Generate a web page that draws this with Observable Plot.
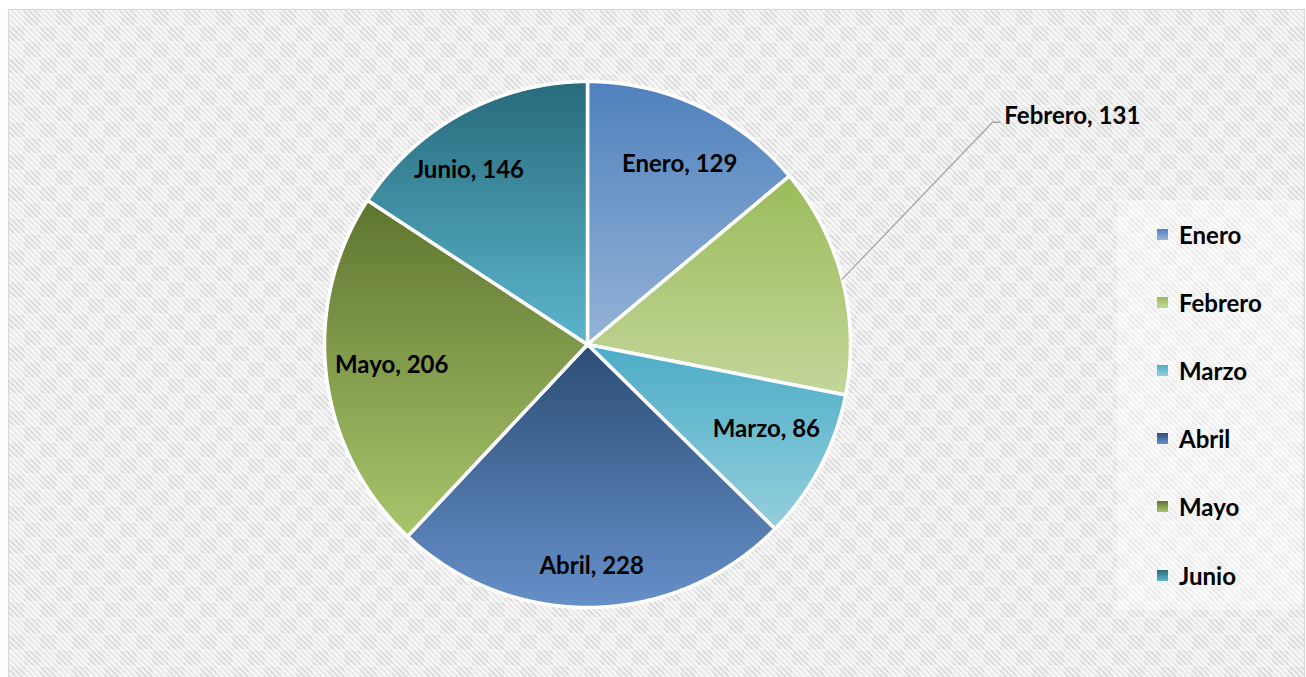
<!DOCTYPE html>
<html>
<head>
<meta charset="utf-8">
<script src="https://cdn.jsdelivr.net/npm/d3@7"></script>
<script src="https://cdn.jsdelivr.net/npm/@observablehq/plot@0.6"></script>
<style>
  html, body { margin: 0; padding: 0; background: #ffffff; }
  #wrap { position: relative; width: 1306px; height: 677px; overflow: hidden; font-family: Lato, "Open Sans", sans-serif; }
  #wrap svg { position: absolute; left: 0; top: 0; }
  #legendBox { position: absolute; left: 1117px; top: 200px; width: 185px; height: 410px; background: rgba(255,255,255,0.4); }
  .item { position: absolute; left: 1157px; height: 28px; display: flex; align-items: center; font-weight: 700; font-size: 24px; color: #000; }
  .sw { width: 11px; height: 11px; margin-right: 11px; }
</style>
</head>
<body>
<div id="wrap"></div>
<script>
// ---- data ----
const months = ["Enero", "Febrero", "Marzo", "Abril", "Mayo", "Junio"];
const values = [129, 131, 86, 228, 206, 146];
const gradTop = ["#4f81bd", "#9bbb59", "#4bacc6", "#2c4d75", "#5f7530", "#276a7c"];
const gradBottom = ["#95b3d7", "#c3d69b", "#95cfdd", "#6690c9", "#a9c56b", "#5db6cc"];
const outsideLabels = ["Febrero"];

// ---- layout constants ----
const W = 1306, H = 677;
const cx = 587, cy = 344, R = 263;
const febLabel = {x: 1.585, y: 0.868, elbowX: 1.54, elbowY: 0.845, endX: 1.57};
const labelNudge = {Junio: [-0.08, -0.025], Abril: [0, -0.065], Enero: [0.02, -0.02], Mayo: [0.03, 0.015], Marzo: [-0.01, 0.04]};

const table = months.map((m, i) => ({month: m, value: values[i]}));
const arcs = d3.pie().sort(null).value(d => d.value)(table);

// slice polygons in unit-circle data space (angle clockwise from 12 o'clock)
const pts = [];
for (const a of arcs) {
  const m = a.data.month;
  pts.push({month: m, x: 0, y: 0});
  const n = Math.max(2, Math.ceil((a.endAngle - a.startAngle) / 0.005));
  for (let k = 0; k <= n; k++) {
    const t = a.startAngle + (a.endAngle - a.startAngle) * k / n;
    pts.push({month: m, x: Math.sin(t), y: Math.cos(t)});
  }
}

const lr = 0.78;
const inside = arcs.filter(a => !outsideLabels.includes(a.data.month)).map(a => {
  const t = (a.startAngle + a.endAngle) / 2;
  const [nx, ny] = labelNudge[a.data.month] || [0, 0];
  return {x: lr * Math.sin(t) + nx, y: lr * Math.cos(t) + ny, text: `${a.data.month}, ${a.data.value}`};
});
const outside = arcs.filter(a => outsideLabels.includes(a.data.month)).map(a => {
  const t = (a.startAngle + a.endAngle) / 2;
  return {a, t, text: `${a.data.month}, ${a.data.value}`};
});
const leader = outside.flatMap(o => [
  {x: Math.sin(o.t), y: Math.cos(o.t)},
  {x: febLabel.elbowX, y: febLabel.elbowY},
  {x: febLabel.endX, y: febLabel.elbowY}
]);
const outText = outside.map(o => ({x: febLabel.x, y: febLabel.y, text: o.text}));

const chart = Plot.plot({
  width: W, height: H,
  marginLeft: 8, marginTop: 9, marginRight: 2, marginBottom: 0,
  x: {domain: [-1, 1], range: [cx - R, cx + R], axis: null},
  y: {domain: [-1, 1], range: [cy + R, cy - R], axis: null},
  color: {domain: months, range: months.map((m, i) => `url(#g${i})`)},
  style: {background: "transparent", fontFamily: "Lato, 'Open Sans', sans-serif", overflow: "visible"},
  marks: [
    Plot.frame({fill: "url(#bgStripes)", stroke: "none", insetBottom: -3}),
    Plot.frame({fill: "url(#bgChecker)", stroke: "#d9d9d9", strokeWidth: 1.2, insetBottom: -3}),
    Plot.line(pts, {x: "x", y: "y", z: "month", fill: "month", stroke: "white", strokeWidth: 3.5, strokeLinejoin: "round", curve: "linear-closed"}),
    Plot.line(leader, {x: "x", y: "y", stroke: "#a6a6a6", strokeWidth: 1.3}),
    Plot.text(inside, {x: "x", y: "y", text: "text", fontSize: 24, fontWeight: 700, fill: "#000"}),
    Plot.text(outText, {x: "x", y: "y", text: "text", fontSize: 24, fontWeight: 700, fill: "#000", textAnchor: "start"})
  ]
});

// gradient and pattern definitions
const defs = d3.select(chart).insert("defs", ":first-child");
months.forEach((m, i) => {
  const g = defs.append("linearGradient").attr("id", `g${i}`).attr("x1", 0).attr("y1", 0).attr("x2", 0).attr("y2", 1);
  g.append("stop").attr("offset", "0%").attr("stop-color", gradTop[i]);
  g.append("stop").attr("offset", "100%").attr("stop-color", gradBottom[i]);
});
const p1 = defs.append("pattern").attr("id", "bgStripes").attr("patternUnits", "userSpaceOnUse")
  .attr("width", 4).attr("height", 4).attr("patternTransform", "rotate(-45)");
p1.append("rect").attr("width", 4).attr("height", 4).attr("fill", "#f5f5f5");
p1.append("rect").attr("width", 1.8).attr("height", 4).attr("fill", "#d9d9d9");
const p2 = defs.append("pattern").attr("id", "bgChecker").attr("patternUnits", "userSpaceOnUse")
  .attr("width", 32).attr("height", 32).attr("x", 8).attr("y", 9);
p2.append("rect").attr("width", 16).attr("height", 16).attr("fill", "#ffffff").attr("fill-opacity", 0.35);
p2.append("rect").attr("x", 16).attr("y", 16).attr("width", 16).attr("height", 16).attr("fill", "#ffffff").attr("fill-opacity", 0.35);
p2.append("rect").attr("width", 32).attr("height", 0.8).attr("fill", "#ffffff").attr("fill-opacity", 0.5);
p2.append("rect").attr("y", 16).attr("width", 32).attr("height", 0.8).attr("fill", "#ffffff").attr("fill-opacity", 0.5);

const wrap = document.getElementById("wrap");
wrap.appendChild(chart);

// legend
const box = document.createElement("div");
box.id = "legendBox";
wrap.appendChild(box);
const legendY = d3.scalePoint().domain(months).range([234, 575]);
months.forEach((m, i) => {
  const it = document.createElement("div");
  it.className = "item";
  it.style.top = (legendY(m) - 14) + "px";
  const sw = document.createElement("span");
  sw.className = "sw";
  sw.style.background = `linear-gradient(${gradTop[i]}, ${gradBottom[i]})`;
  it.appendChild(sw);
  it.appendChild(document.createTextNode(m));
  wrap.appendChild(it);
});
</script>
</body>
</html>
